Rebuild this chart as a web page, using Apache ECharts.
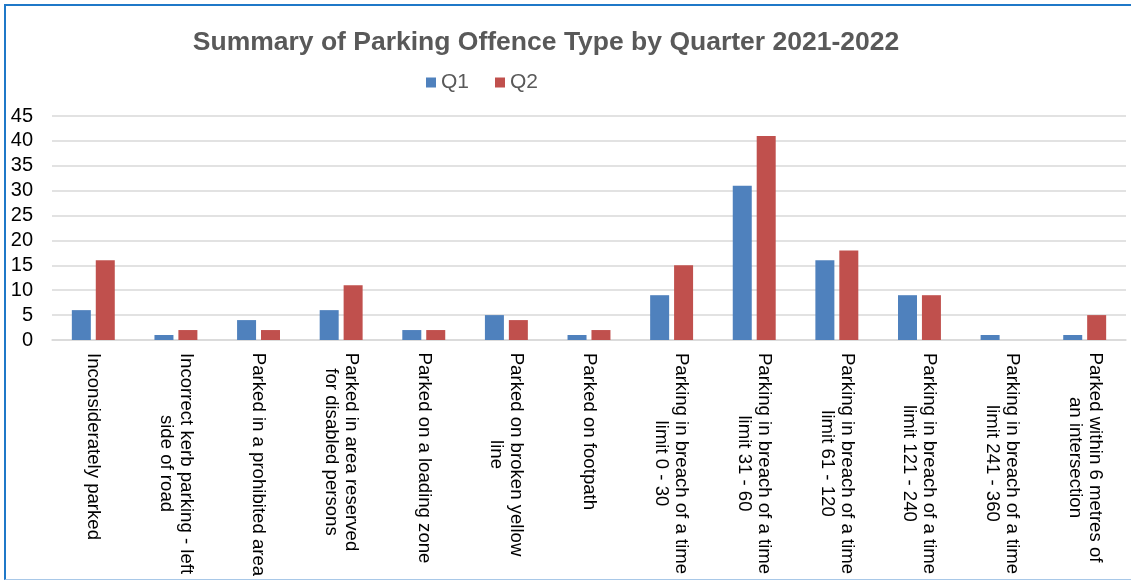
<!DOCTYPE html>
<html>
<head>
<meta charset="utf-8">
<script src="https://cdn.jsdelivr.net/npm/echarts@6/dist/echarts.min.js"></script>
<style>
  html, body { margin: 0; padding: 0; background: #fff; }
  #chart { position: absolute; left: 0; top: 0; width: 1131px; height: 580px; }
  #frame {
    position: absolute; left: 4px; top: 4px; width: 1140px; height: 573px;
    border-left: 2px solid #1f78c8; border-top: 2px solid #1f78c8;
    border-bottom: 1px solid #a8c8e8; pointer-events: none;
  }
</style>
</head>
<body>
<div id="chart"></div>
<div id="frame"></div>
<script>
  // 违章类型
  const categories = [
    'Inconsiderately parked',
    'Incorrect kerb parking - left\nside of road',
    'Parked in a prohibited area',
    'Parked in area reserved\nfor disabled persons',
    'Parked on a loading zone',
    'Parked on broken yellow\nline',
    'Parked on footpath',
    'Parking in breach of a time\nlimit 0 - 30',
    'Parking in breach of a time\nlimit 31 - 60',
    'Parking in breach of a time\nlimit 61 - 120',
    'Parking in breach of a time\nlimit 121 - 240',
    'Parking in breach of a time\nlimit 241 - 360',
    'Parked within 6 metres of\nan intersection'
  ]
  const q1 = [6, 1, 4, 6, 2, 5, 1, 9, 31, 16, 9, 1, 1]
  const q2 = [16, 2, 2, 11, 2, 4, 2, 15, 41, 18, 9, 0, 5]
  const seriesNames = ['Q1', 'Q2']

  const chart = echarts.init(document.getElementById('chart'))
  const font = 'Liberation Sans, Arial, sans-serif'
  const labelSize = 18.6

  // 每个标签按最长一行的宽度居中
  const ctx = document.createElement('canvas').getContext('2d')
  ctx.font = labelSize + 'px "Liberation Sans", Arial, sans-serif'
  const rich = {}
  categories.forEach((c, i) => {
    const w = Math.max(...c.split('\n').map(s => ctx.measureText(s).width))
    rich['l' + i] = {
      width: Math.ceil(w) + 1,
      align: 'center',
      fontFamily: font,
      fontSize: labelSize,
      lineHeight: 20,
      color: '#000'
    }
  })

  chart.setOption({
    animation: false,
    title: {
      text: 'Summary of Parking Offence Type by Quarter 2021-2022',
      left: 541,
      textAlign: 'center',
      top: 24,
      textStyle: { fontFamily: font, fontSize: 26.5, fontWeight: 'bold', color: '#595959' }
    },
    legend: {
      data: seriesNames,
      left: 426,
      top: 72,
      padding: 0,
      icon: 'rect',
      itemWidth: 10,
      itemHeight: 10,
      itemGap: 26,
      textStyle: { fontFamily: font, fontSize: 21, color: '#595959' }
    },
    grid: {
      left: 52,
      right: 5,
      top: 116,
      bottom: 240
    },
    xAxis: {
      type: 'category',
      data: categories,
      axisTick: { show: false },
      axisLine: { lineStyle: { color: '#d9d9d9', width: 1.5 } },
      axisLabel: {
        interval: 0,
        rotate: -90,
        margin: 12,
        formatter: (v, i) => v.split('\n').map(s => '{l' + i + '|' + s + '}').join('\n'),
        rich: rich
      }
    },
    yAxis: {
      type: 'value',
      min: 0,
      max: 45,
      interval: 5,
      axisLine: { show: false },
      axisTick: { show: false },
      splitLine: { lineStyle: { color: '#d9d9d9', width: 1.5 } },
      axisLabel: { fontFamily: font, fontSize: 20, color: '#000', margin: 19 }
    },
    series: [
      {
        name: 'Q1',
        type: 'bar',
        data: q1,
        barWidth: 19,
        barGap: '26%',
        itemStyle: { color: '#4f81bd' }
      },
      {
        name: 'Q2',
        type: 'bar',
        data: q2,
        barWidth: 19,
        itemStyle: { color: '#c0504d' }
      }
    ]
  })
</script>
</body>
</html>
